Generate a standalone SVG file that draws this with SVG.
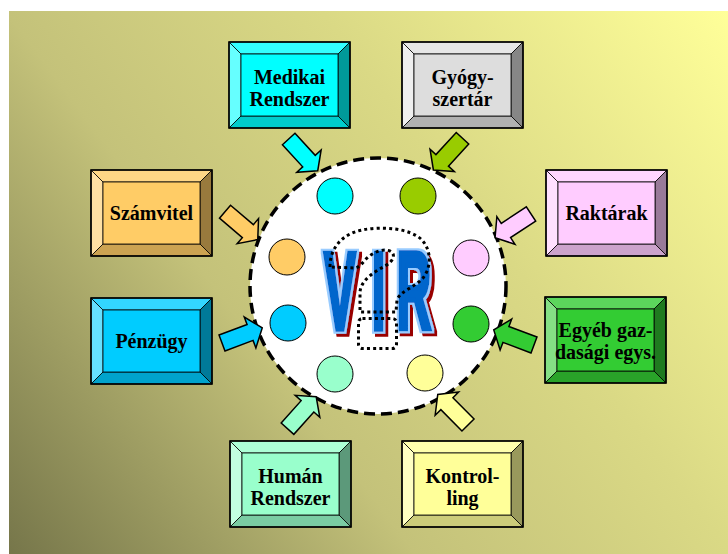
<svg xmlns="http://www.w3.org/2000/svg" width="728" height="554" viewBox="0 0 728 554">
  <defs>
    <linearGradient id="bg" gradientUnits="userSpaceOnUse" x1="9" y1="554" x2="728" y2="11">
      <stop offset="0" stop-color="#76764a"/>
      <stop offset="0.36" stop-color="#c4c27a"/>
      <stop offset="0.64" stop-color="#dad985"/>
      <stop offset="1" stop-color="#ffff99"/>
    </linearGradient>
    <!-- light outline plus dark red drop shadow for the big lettering -->
    <filter id="virfx" x="-10%" y="-10%" width="130%" height="130%">
      <feMorphology in="SourceAlpha" operator="dilate" radius="1.5" result="outer"/>
      <feFlood flood-color="#99ccff"/>
      <feComposite in2="outer" operator="in" result="outline"/>
      <feOffset in="outer" dx="2.5" dy="2.5" result="sh"/>
      <feFlood flood-color="#990000"/>
      <feComposite in2="sh" operator="in" result="shadow"/>
      <feMerge>
        <feMergeNode in="shadow"/>
        <feMergeNode in="outline"/>
        <feMergeNode in="SourceGraphic"/>
      </feMerge>
    </filter>
    <!-- block arrow pointing along +x, back edge at x=0 -->
    <polygon id="arrow" points="0,-8.5 30,-8.5 30,-16.5 43,0 30,16.5 30,8.5 0,8.5"/>
  </defs>
  <style>
    .edge{stroke:#000;stroke-width:0.8;stroke-linejoin:miter}
    .frame{fill:none;stroke:#000;stroke-width:1.6}
    .lbl{font-family:"Liberation Serif","Times New Roman",serif;font-weight:bold;font-size:20px;text-anchor:middle;fill:#000}
    .arr{stroke:#000;stroke-width:1.5;stroke-linejoin:miter}
    .dot{stroke:#000;stroke-width:1}
    .vir{font-family:"Liberation Sans",Arial,sans-serif;font-weight:bold;font-size:56px;text-anchor:middle;fill:#0066cc;stroke:#0066cc;stroke-width:2.8}
    .q{fill:none;stroke:#000;stroke-width:3;stroke-dasharray:3 3.2}
  </style>

  <rect x="9" y="11" width="719" height="543" fill="url(#bg)"/>

  <!-- central system circle -->
  <g id="vir-core">
    <circle cx="378" cy="286" r="128" fill="#fff" stroke="#000" stroke-width="3.5" stroke-dasharray="11 6"/>
    <circle class="dot" cx="335" cy="196" r="18" fill="#00ffff"/>
    <circle class="dot" cx="418" cy="196" r="18" fill="#99cc00"/>
    <circle class="dot" cx="287" cy="257" r="18" fill="#ffcc66"/>
    <circle class="dot" cx="471" cy="258" r="18" fill="#ffccff"/>
    <circle class="dot" cx="288" cy="323" r="18" fill="#00ccff"/>
    <circle class="dot" cx="471" cy="324" r="18" fill="#33cc33"/>
    <circle class="dot" cx="335" cy="374" r="18" fill="#99ffcc"/>
    <circle class="dot" cx="425" cy="373" r="18" fill="#ffff99"/>

    <!-- VIR lettering, stretched tall -->
    <g filter="url(#virfx)">
      <text class="vir" transform="scale(0.85,1.95)" y="168.7"><tspan x="400">V</tspan><tspan x="445.3">I</tspan><tspan x="487.1">R</tspan></text>
    </g>

    <!-- dotted question mark -->
    <path class="q" d="M330,267 C330,248 342,234 362,230 C382,226 410,228 422,240 C432,251 431,268 423,278 C414,288 400,291 397,300 L396,312 L360,312 L360,292 C361,280 374,272 385,266 C394,261 396,254 390,251 C382,248 372,253 366,259 C362,264 358,268 355,268 Z"/>
    <rect class="q" x="358.5" y="318.5" width="38" height="30" rx="4"/>
  </g>

  <!-- connectors -->
  <g id="connectors">
    <use href="#arrow" class="arr" fill="#00ffff" transform="translate(288.7,139) rotate(47.5)"/>
    <use href="#arrow" class="arr" fill="#99cc00" transform="translate(462.5,138.3) rotate(132.6)"/>
    <use href="#arrow" class="arr" fill="#ffccff" transform="translate(531,214) rotate(146.7)"/>
    <use href="#arrow" class="arr" fill="#ffcc66" transform="translate(225,211.7) rotate(40.4)"/>
    <use href="#arrow" class="arr" fill="#00ccff" transform="translate(222,343) rotate(-20.6)"/>
    <use href="#arrow" class="arr" fill="#33cc33" transform="translate(534,345) rotate(200.6)"/>
    <use href="#arrow" class="arr" fill="#99ffcc" transform="translate(287.5,428.7) rotate(-48.2)"/>
    <use href="#arrow" class="arr" fill="#ffff99" transform="translate(468,425) rotate(-134.7)"/>
  </g>

  <!-- beveled boxes: top, left, right, bottom faces, then front face -->
  <g id="medikai" transform="translate(229,42)">
    <polygon class="edge" fill="#33ffff" points="0,0 121,0 109,12 12,12"/>
    <polygon class="edge" fill="#66ffff" points="0,0 12,12 12,74 0,86"/>
    <polygon class="edge" fill="#009999" points="121,0 121,86 109,74 109,12"/>
    <polygon class="edge" fill="#00cccc" points="0,86 12,74 109,74 121,86"/>
    <rect class="edge" x="12" y="12" width="97" height="62" fill="#00ffff"/>
    <rect class="frame" x="0" y="0" width="121" height="86"/>
    <text class="lbl" x="60.5" y="41.5">Medikai</text>
    <text class="lbl" x="60.5" y="64">Rendszer</text>
  </g>

  <g id="gyogyszertar" transform="translate(402,42)">
    <polygon class="edge" fill="#e6e6e6" points="0,0 121,0 109,12 12,12"/>
    <polygon class="edge" fill="#efefef" points="0,0 12,12 12,74 0,86"/>
    <polygon class="edge" fill="#868686" points="121,0 121,86 109,74 109,12"/>
    <polygon class="edge" fill="#b1b1b1" points="0,86 12,74 109,74 121,86"/>
    <rect class="edge" x="12" y="12" width="97" height="62" fill="#dddddd"/>
    <rect class="frame" x="0" y="0" width="121" height="86"/>
    <text class="lbl" x="60.5" y="41.5">Gyógy-</text>
    <text class="lbl" x="60.5" y="64">szertár</text>
  </g>

  <g id="raktarak" transform="translate(546,170)">
    <polygon class="edge" fill="#ffd6ff" points="0,0 121,0 109,12 12,12"/>
    <polygon class="edge" fill="#ffe0ff" points="0,0 12,12 12,74 0,86"/>
    <polygon class="edge" fill="#997a99" points="121,0 121,86 109,74 109,12"/>
    <polygon class="edge" fill="#cca3cc" points="0,86 12,74 109,74 121,86"/>
    <rect class="edge" x="12" y="12" width="97" height="62" fill="#ffccff"/>
    <rect class="frame" x="0" y="0" width="121" height="86"/>
    <text class="lbl" x="60.5" y="50">Raktárak</text>
  </g>

  <g id="szamvitel" transform="translate(91,170)">
    <polygon class="edge" fill="#ffd685" points="0,0 121,0 109,12 12,12"/>
    <polygon class="edge" fill="#ffe0a3" points="0,0 12,12 12,74 0,86"/>
    <polygon class="edge" fill="#997a3d" points="121,0 121,86 109,74 109,12"/>
    <polygon class="edge" fill="#cca352" points="0,86 12,74 109,74 121,86"/>
    <rect class="edge" x="12" y="12" width="97" height="62" fill="#ffcc66"/>
    <rect class="frame" x="0" y="0" width="121" height="86"/>
    <text class="lbl" x="60.5" y="50">Számvitel</text>
  </g>

  <g id="penzugy" transform="translate(91,298)">
    <polygon class="edge" fill="#33d6ff" points="0,0 121,0 109,12 12,12"/>
    <polygon class="edge" fill="#66e0ff" points="0,0 12,12 12,74 0,86"/>
    <polygon class="edge" fill="#007a99" points="121,0 121,86 109,74 109,12"/>
    <polygon class="edge" fill="#00a3cc" points="0,86 12,74 109,74 121,86"/>
    <rect class="edge" x="12" y="12" width="97" height="62" fill="#00ccff"/>
    <rect class="frame" x="0" y="0" width="121" height="86"/>
    <text class="lbl" x="60.5" y="49.5">Pénzügy</text>
  </g>

  <g id="egyeb" transform="translate(545,297)">
    <polygon class="edge" fill="#5cd65c" points="0,0 121,0 109,12 12,12"/>
    <polygon class="edge" fill="#85e085" points="0,0 12,12 12,74 0,86"/>
    <polygon class="edge" fill="#1f7a1f" points="121,0 121,86 109,74 109,12"/>
    <polygon class="edge" fill="#29a329" points="0,86 12,74 109,74 121,86"/>
    <rect class="edge" x="12" y="12" width="97" height="62" fill="#33cc33"/>
    <rect class="frame" x="0" y="0" width="121" height="86"/>
    <text class="lbl" x="60.5" y="39.5">Egyéb gaz-</text>
    <text class="lbl" x="60.5" y="62">dasági egys.</text>
  </g>

  <g id="human" transform="translate(230,441)">
    <polygon class="edge" fill="#adffd6" points="0,0 121,0 109,12 12,12"/>
    <polygon class="edge" fill="#c2ffe0" points="0,0 12,12 12,74 0,86"/>
    <polygon class="edge" fill="#5c997a" points="121,0 121,86 109,74 109,12"/>
    <polygon class="edge" fill="#7acca3" points="0,86 12,74 109,74 121,86"/>
    <rect class="edge" x="12" y="12" width="97" height="62" fill="#99ffcc"/>
    <rect class="frame" x="0" y="0" width="121" height="86"/>
    <text class="lbl" x="60.5" y="41.5">Humán</text>
    <text class="lbl" x="60.5" y="64">Rendszer</text>
  </g>

  <g id="kontrolling" transform="translate(402,441)">
    <polygon class="edge" fill="#ffffad" points="0,0 121,0 109,12 12,12"/>
    <polygon class="edge" fill="#ffffc2" points="0,0 12,12 12,74 0,86"/>
    <polygon class="edge" fill="#99995c" points="121,0 121,86 109,74 109,12"/>
    <polygon class="edge" fill="#cccc7a" points="0,86 12,74 109,74 121,86"/>
    <rect class="edge" x="12" y="12" width="97" height="62" fill="#ffff99"/>
    <rect class="frame" x="0" y="0" width="121" height="86"/>
    <text class="lbl" x="60.5" y="41.5">Kontrol-</text>
    <text class="lbl" x="60.5" y="64">ling</text>
  </g>
</svg>
